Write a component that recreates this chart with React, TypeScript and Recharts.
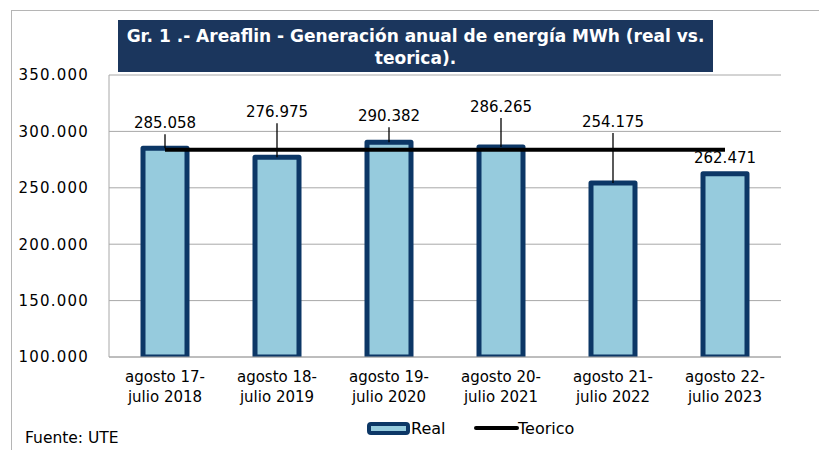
import { ComposedChart, Bar, Line, XAxis, YAxis, CartesianGrid, LabelList } from "recharts";

const periods = [
  "agosto 17-julio 2018",
  "agosto 18-julio 2019",
  "agosto 19-julio 2020",
  "agosto 20-julio 2021",
  "agosto 21-julio 2022",
  "agosto 22-julio 2023",
];
const realMWh = [285058, 276975, 290382, 286265, 254175, 262471];
const teoricoMWh = [283700, 283700, 283700, 283700, 283700, 283700];
const yTicks = [100000, 150000, 200000, 250000, 300000, 350000];

const seriesNames = { real: "Real", teorico: "Teorico" };
const titleLines = [
  "Gr. 1 .- Areaflin - Generación anual de energía MWh (real vs.",
  "teorica).",
];
const sourceNote = "Fuente: UTE";

// how far each value label sits above its bar (moved by hand in the original)
const labelLift = [25, 45, 26, 40, 61, 16];

const FONT = "'DejaVu Sans', Verdana, sans-serif";
const NAVY = "#0c3766";
const LIGHT = "#96cbdd";
const GRID = "#a8a8a8";

const fmt = (v: number) => String(v).replace(/\B(?=(\d{3})+(?!\d))/g, ".");

const data = periods.map((p, i) => ({
  period: p,
  real: realMWh[i],
  teorico: teoricoMWh[i],
}));

const PeriodTick = ({ x, y, payload }: any) => {
  const s = String(payload.value);
  const cut = s.indexOf("-") + 1;
  return (
    <g>
      <text x={x} y={y + 20} textAnchor="middle" dominantBaseline="central" fontFamily={FONT} fontSize={15} fill="#000">
        {s.slice(0, cut)}
      </text>
      <text x={x} y={y + 40} textAnchor="middle" dominantBaseline="central" fontFamily={FONT} fontSize={15} fill="#000">
        {s.slice(cut)}
      </text>
    </g>
  );
};

const ValueLabel = (props: any) => {
  const { x, y, width, value, index } = props;
  const cx = x + width / 2;
  const lift = labelLift[index] ?? 20;
  const ty = y - lift;
  return (
    <g>
      {lift > 20 && <line x1={cx} x2={cx} y1={ty + 11} y2={y} stroke="#000" strokeWidth={1.3} />}
      <text x={cx} y={ty} textAnchor="middle" dominantBaseline="central" fontFamily={FONT} fontSize={15} fill="#000">
        {fmt(value)}
      </text>
    </g>
  );
};

const App = () => {
  return (
    <div style={{ position: "absolute", left: 0, top: 0, width: 819, height: 450, background: "#fff", overflow: "hidden" }}>
      {/* chart area frame (cut off at right and bottom) */}
      <div style={{ position: "absolute", left: 11, top: 10, right: -2, bottom: -2, borderLeft: "1px solid #b5b5b5", borderTop: "1px solid #b5b5b5" }} />

      <ComposedChart width={819} height={450} data={data} margin={{ top: 75, right: 38, bottom: 53, left: 9 }}>
        <CartesianGrid vertical={false} stroke={GRID} strokeWidth={1} />
        <XAxis
          dataKey="period"
          height={40}
          tickLine={false}
          tickSize={0}
          tickMargin={0}
          axisLine={{ stroke: GRID }}
          tick={<PeriodTick />}
          interval={0}
        />
        <YAxis
          width={100}
          domain={[100000, 350000]}
          ticks={yTicks}
          tickFormatter={fmt}
          tickLine={false}
          tickSize={0}
          tickMargin={20}
          axisLine={{ stroke: GRID }}
          tick={{ fontFamily: FONT, fontSize: 15, fill: "#000", letterSpacing: 1.2 }}
          allowDataOverflow
        />
        <Bar
          dataKey="real"
          name={seriesNames.real}
          barSize={44}
          fill={LIGHT}
          stroke={NAVY}
          strokeWidth={5}
          strokeLinejoin="round"
          isAnimationActive={false}
        >
          <LabelList dataKey="real" content={<ValueLabel />} />
        </Bar>
        <Line
          dataKey="teorico"
          name={seriesNames.teorico}
          type="linear"
          stroke="#000"
          strokeWidth={4}
          dot={false}
          activeDot={false}
          isAnimationActive={false}
        />
      </ComposedChart>

      {/* title box */}
      <div
        style={{
          position: "absolute",
          left: 118,
          top: 20,
          width: 595,
          height: 52,
          boxSizing: "border-box",
          paddingTop: 5,
          background: "#1b365d",
          color: "#fff",
          fontFamily: FONT,
          fontWeight: "bold",
          fontSize: 17,
          lineHeight: "22px",
          textAlign: "center",
        }}
      >
        {titleLines.map((t) => (
          <div key={t}>{t}</div>
        ))}
      </div>

      {/* legend */}
      <svg style={{ position: "absolute", left: 0, top: 410 }} width={819} height={40}>
        <rect x={369} y={14} width={39} height={9} rx={2} fill={LIGHT} stroke={NAVY} strokeWidth={4} />
        <text x={411} y={18} dominantBaseline="central" fontFamily={FONT} fontSize={16} fill="#000">
          {seriesNames.real}
        </text>
        <line x1={476} x2={517} y1={18} y2={18} stroke="#000" strokeWidth={4} strokeLinecap="round" />
        <text x={518} y={18} dominantBaseline="central" fontFamily={FONT} fontSize={16} fill="#000">
          {seriesNames.teorico}
        </text>
      </svg>

      <div style={{ position: "absolute", left: 25, top: 428, fontFamily: FONT, fontSize: 15.5, lineHeight: "20px", color: "#000" }}>
        {sourceNote}
      </div>
    </div>
  );
};

export default App;
